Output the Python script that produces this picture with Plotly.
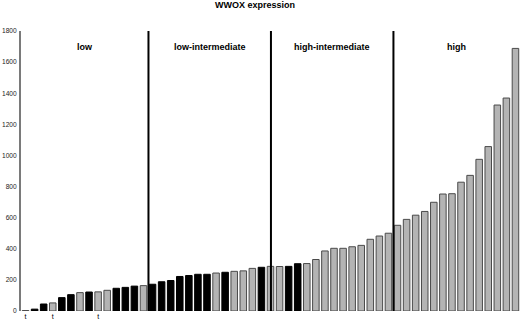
import plotly.graph_objects as go

# --- data ---
values = [3, 12, 45, 52, 86, 105, 118, 122, 123, 133, 146, 152, 160, 163,
          172, 188, 196, 222, 228, 236, 236, 244, 249, 255, 258, 274, 281, 287,
          286, 287, 304, 305, 331, 386, 403, 403, 413, 422, 461, 482, 500,
          551, 589, 616, 640, 699, 752, 754, 828, 872, 975, 1057, 1324, 1369, 1688]
# sample type per bar: "B" = black bar, "G" = grey bar
sample_type = ["G", "B", "B", "G", "B", "B", "G", "B", "G", "G", "B", "B", "B", "G",
               "B", "B", "B", "B", "B", "B", "B", "G", "B", "G", "G", "G", "B", "G",
               "G", "B", "B", "G", "G", "G", "G", "G", "G", "G", "G", "G", "G",
               "G", "G", "G", "G", "G", "G", "G", "G", "G", "G", "G", "G", "G", "G"]
x_tick_index = [0, 3, 8]
x_tick_labels = ["t", "t", "t"]
y_ticks = [0, 200, 400, 600, 800, 1000, 1200, 1400, 1600, 1800]
group_names = ["low", "low-intermediate", "high-intermediate", "high"]
group_bounds = [13.55, 27.05, 40.55]   # category positions of separating lines
title = "WWOX expression"

n = len(values)
xs = list(range(n))
color_map = {"B": "#000000", "G": "#b4b4b4"}
line_map = {"B": "#000000", "G": "#4a4a4a"}

fig = go.Figure()
fig.add_trace(go.Bar(
    x=xs, y=values,
    marker=dict(color=[color_map[s] for s in sample_type],
                line=dict(color=[line_map[s] for s in sample_type], width=1)),
    showlegend=False,
))

for b in group_bounds:
    fig.add_shape(type="line", x0=b, x1=b, y0=0, y1=1800, xref="x", yref="y",
                  line=dict(color="#000000", width=2))

edges = [-0.5] + group_bounds + [n - 0.5]
for i, name in enumerate(group_names):
    fig.add_annotation(x=(edges[i] + edges[i + 1]) / 2, y=1697, xref="x", yref="y",
                       text="<b>%s</b>" % name, showarrow=False,
                       font=dict(family="Liberation Sans, Arial", size=9, color="#000"))

fig.add_annotation(x=0.468, y=1.0, xref="paper", yref="paper", yanchor="middle",
                   yshift=26, text="<b>%s</b>" % title, showarrow=False,
                   font=dict(family="Liberation Sans, Arial", size=9, color="#000"))

fig.update_layout(
    width=520, height=319,
    margin=dict(l=21, r=0, t=31, b=8),
    paper_bgcolor="white", plot_bgcolor="white",
    bargap=0.28,
    font=dict(family="Liberation Sans, Arial", size=7, color="#222"),
)
fig.update_xaxes(range=[-0.5, n - 0.5], tickmode="array", tickvals=x_tick_index,
                 ticktext=x_tick_labels, showgrid=False, zeroline=False,
                 showline=False, ticks="", ticklabelstandoff=0, automargin=False,
                 tickfont=dict(size=7, color="#000"))
fig.update_yaxes(range=[0, 1800], tickmode="array", tickvals=y_ticks,
                 showgrid=False, zeroline=False, showline=True,
                 linecolor="#7a7a7a", linewidth=2, ticks="", automargin=False,
                 ticklabelstandoff=1, tickfont=dict(size=6.6, color="#222"))

fig.write_html("out.html", post_script="document.body.style.margin='0';",
               config={"displayModeBar": False})
